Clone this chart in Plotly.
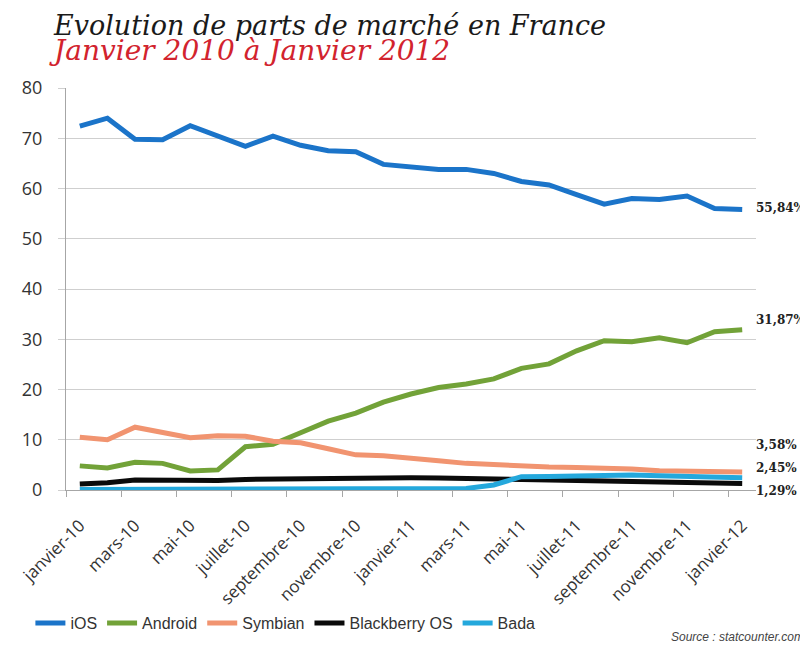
import plotly.graph_objects as go

months = ["janvier-10", "février-10", "mars-10", "avril-10", "mai-10", "juin-10",
          "juillet-10", "août-10", "septembre-10", "octobre-10", "novembre-10", "décembre-10",
          "janvier-11", "février-11", "mars-11", "avril-11", "mai-11", "juin-11",
          "juillet-11", "août-11", "septembre-11", "octobre-11", "novembre-11", "décembre-11",
          "janvier-12"]

ios = [72.4, 74.0, 69.8, 69.7, 72.5, 70.5, 68.4, 70.4, 68.6, 67.5, 67.3, 64.8, 64.2,
       63.8, 63.8, 63.0, 61.4, 60.7, 58.8, 56.9, 58.0, 57.8, 58.5, 56.0, 55.84]
android = [4.8, 4.4, 5.5, 5.3, 3.8, 4.0, 8.6, 9.1, 11.4, 13.7, 15.3, 17.5, 19.1,
           20.4, 21.1, 22.1, 24.2, 25.1, 27.7, 29.7, 29.5, 30.3, 29.3, 31.5, 31.87]
symbian = [10.5, 10.0, 12.5, 11.5, 10.4, 10.8, 10.7, 9.7, 9.4, 8.2, 7.0, 6.8, 6.4,
           5.8, 5.3, 5.0, 4.8, 4.6, 4.5, 4.4, 4.2, 3.85, 3.8, 3.7, 3.58]
blackberry = [1.2, 1.45, 2.0, 2.0, 1.8, 1.9, 2.1, 2.2, 2.3, 2.4, 2.4, 2.4, 2.45,
              2.4, 2.3, 2.2, 2.1, 2.0, 1.8, 1.65, 1.65, 1.55, 1.45, 1.35, 1.29]
bada = [0.1, 0.1, 0.1, 0.1, 0.1, 0.1, 0.1, 0.1, 0.1, 0.1, 0.1, 0.1, 0.1,
        0.1, 0.3, 1.0, 2.65, 2.7, 2.85, 3.0, 3.0, 2.85, 2.65, 2.55, 2.45]

series = [
    ("iOS", ios, "#1b74c9"),
    ("Android", android, "#72a238"),
    ("Symbian", symbian, "#f19470"),
    ("Blackberry OS", blackberry, "#0a0a0a"),
    ("Bada", bada, "#24a8dc"),
]

end_labels = ["55,84%", "31,87%", "3,58%", "1,29%", "2,45%"]
end_label_shift = [1, 10, 27, -7, 10]

title_text = "Evolution de parts de marché en France"
subtitle_text = "Janvier 2010 à Janvier 2012"

x = list(range(len(months)))
tick_idx = x[::2]
tick_text = months[::2]

fig = go.Figure()
for name, vals, col in series:
    fig.add_trace(go.Scatter(x=x, y=vals, name=name, mode="lines",
                             line=dict(color=col, width=5), cliponaxis=False))

for (name, vals, col), lab, sh in zip(series, end_labels, end_label_shift):
    fig.add_annotation(x=x[-1], y=vals[-1], text=lab, showarrow=False,
                       xanchor="left", yanchor="middle", xshift=12, yshift=sh,
                       font=dict(family="DejaVu Serif", size=12, color="#222222", weight="bold"))

fig.add_annotation(
    xref="paper", yref="paper", x=-0.026, y=1.196, xanchor="left", yanchor="top",
    align="left", showarrow=False, borderpad=0,
    text=(f"<span style='font-size:27px'><i>{title_text}</i></span><br>"
          f"<span style='font-size:28px;color:#d2232e'><i>{subtitle_text}</i></span>"),
    font=dict(family="DejaVu Serif", size=19.3, color="#1a1a1a"))
fig.add_annotation(xref="paper", yref="paper", x=1.0725, y=-0.366, xanchor="right", yanchor="middle",
                   text="<i>Source : statcounter.com</i>", showarrow=False,
                   font=dict(family="Liberation Sans Narrow, Liberation Sans", size=12, color="#444444"))

fig.update_layout(
    width=800, height=638,
    margin=dict(l=58, r=52, t=80, b=156),
    plot_bgcolor="white", paper_bgcolor="white",
    showlegend=True,
    legend=dict(orientation="h", xref="container", yref="container", x=0.028, y=0.036,
                xanchor="left", yanchor="middle", itemwidth=30,
                font=dict(family="Liberation Sans Narrow, Liberation Sans", size=16, color="#333333")),
    xaxis=dict(range=[-0.5, len(months) - 0.5], tickvals=tick_idx, ticktext=tick_text,
               tickangle=-45, ticks="", showgrid=False, zeroline=False, automargin=False,
               showline=True, linecolor="#a6a6a6", linewidth=1, ticklabelstandoff=18,
               tickfont=dict(family="Open Sans", size=17, color="#333333"),
               minor=dict(tick0=-0.5, dtick=2, ticks="outside", ticklen=6,
                          tickcolor="#a6a6a6", showgrid=False)),
    yaxis=dict(range=[0, 80], dtick=10, showgrid=True, gridcolor="#cfcfcf", gridwidth=1,
               zeroline=False, showline=True, linecolor="#a6a6a6", linewidth=1, automargin=False,
               ticks="outside", ticklen=7, tickcolor="#cfcfcf", ticklabelstandoff=12,
               tickfont=dict(family="Open Sans", size=18, color="#333333")),
)

fig.write_html("out.html")
